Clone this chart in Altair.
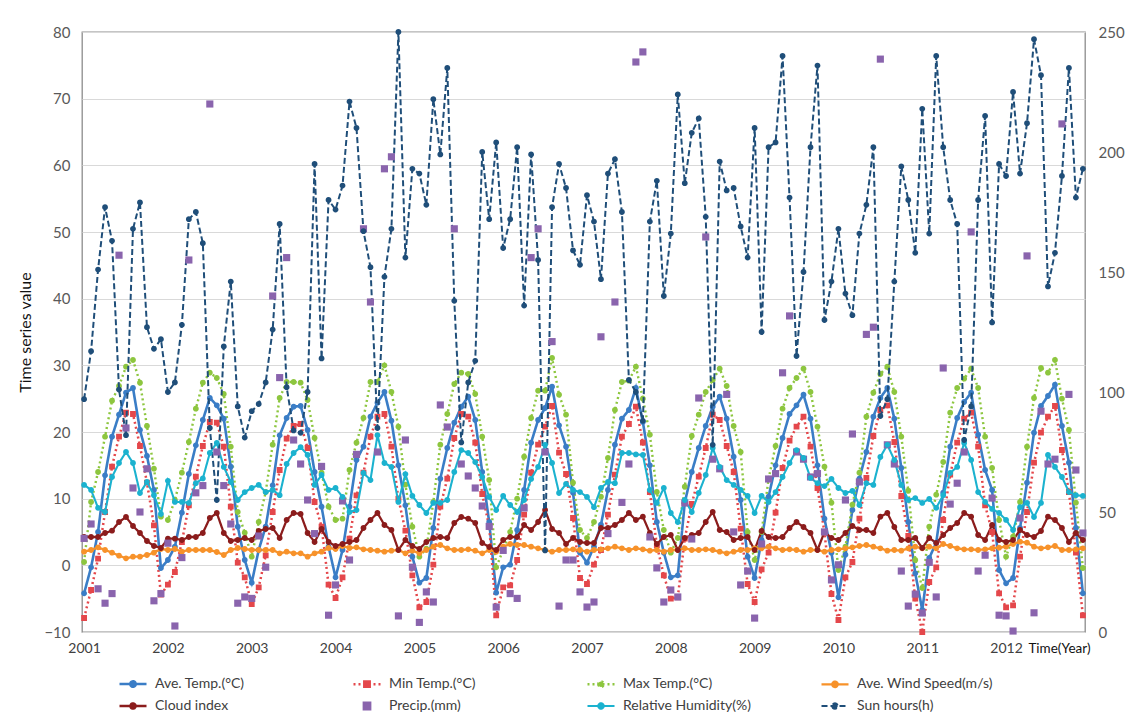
import altair as alt
import pandas as pd

# ---------------- data ----------------
year_labels = ["2001", "2002", "2003", "2004", "2005", "2006",
               "2007", "2008", "2009", "2010", "2011", "2012"]
year_ticks = [0, 12, 24, 36, 48, 60, 72, 84, 96, 108, 120, 132]

series_names = ["Ave. Temp.(°C)", "Min Temp.(°C)", "Max Temp.(°C)",
                "Ave. Wind Speed(m/s)", "Cloud index", "Precip.(mm)",
                "Relative Humidity(%)", "Sun hours(h)"]

ave_temp = [
    -4.2, -0.3, 5.0, 13.5, 19.3, 22.6, 25.9, 26.6, 20.3, 16.4, 11.3, -0.4,
    0.8, 2.8, 7.9, 13.7, 18.0, 21.8, 25.1, 24.0, 22.0, 14.8, 5.8, 0.8,
    -2.6, 2.3, 5.8, 12.0, 19.5, 22.1, 23.8, 23.9, 20.3, 14.0, 8.8, 2.8,
    -1.8, 2.3, 8.8, 15.8, 17.8, 22.3, 24.4, 26.0, 21.7, 15.0, 9.0, 1.3,
    -2.6, -1.9, 5.6, 13.0, 17.6, 21.4, 23.8, 25.3, 21.8, 14.0, 6.5, -4.1,
    -0.3, 0.1, 5.3, 11.3, 18.4, 21.8, 23.6, 26.8, 21.0, 17.8, 10.9, 1.9,
    0.4, 2.8, 6.1, 11.3, 18.1, 22.0, 23.3, 26.6, 21.5, 15.0, 6.5, 1.9,
    -1.8, -1.5, 9.4, 14.0, 17.6, 20.9, 23.8, 25.3, 22.0, 16.3, 9.8, 1.3,
    -1.9, 3.8, 10.3, 15.0, 19.1, 22.7, 24.0, 25.6, 22.0, 15.0, 7.0, 1.9,
    -4.8, 1.6, 8.3, 13.0, 17.0, 22.3, 25.1, 26.6, 22.0, 14.6, 6.5, -1.2,
    -6.7, 1.1, 3.4, 10.9, 17.8, 22.1, 24.5, 25.9, 19.6, 14.3, 11.3, -0.7,
    -2.7, -1.9, 5.6, 12.4, 19.9, 23.9, 25.4, 27.1, 20.9, 15.4, 5.6, -4.2,
]

min_temp = [
    -7.9, -3.7, 1.0, 8.0, 14.8, 19.3, 22.9, 22.7, 17.9, 12.4, 6.0, -4.4,
    -2.9, -1.0, 3.5, 9.0, 13.3, 17.9, 21.5, 21.4, 17.8, 8.8, 0.4, -1.8,
    -5.8, -3.3, 1.5, 8.0, 14.3, 19.0, 20.9, 21.2, 17.6, 9.5, 5.8, -2.9,
    -4.9, -1.8, 4.0, 10.5, 13.9, 19.3, 22.3, 22.7, 17.8, 10.0, 5.2, -1.5,
    -6.3, -5.5, 0.1, 8.8, 13.0, 19.1, 22.7, 22.3, 18.4, 10.7, 5.8, -7.5,
    -3.3, -3.0, 0.8, 7.6, 13.9, 18.1, 20.8, 23.9, 16.9, 13.7, 7.1, -1.9,
    -2.8, 0.1, 2.3, 7.6, 13.6, 19.3, 21.2, 23.8, 18.4, 11.0, 3.0, -1.5,
    -5.0, -4.8, 4.0, 9.2, 13.3, 17.6, 22.6, 21.8, 17.9, 14.0, 5.5, -2.8,
    -5.5, -0.6, 1.9, 7.9, 14.6, 18.7, 20.8, 22.3, 17.8, 11.6, 4.9, -4.3,
    -8.2, -1.8, 0.5, 7.0, 13.1, 19.4, 23.3, 24.0, 18.5, 10.4, 4.4, -5.0,
    -10.0, -2.5, -0.3, 6.8, 13.6, 18.4, 22.0, 22.9, 17.8, 9.0, 5.0, -4.2,
    -6.3, -6.0, 1.3, 8.0, 15.4, 19.9, 22.3, 23.9, 17.3, 11.0, 1.9, -7.5,
]

max_temp = [
    0.5, 9.5, 14.0, 19.3, 24.7, 26.9, 29.8, 30.8, 27.4, 20.9, 14.5, 7.3,
    6.8, 9.8, 13.9, 18.5, 23.5, 27.4, 28.9, 28.1, 25.7, 17.8, 8.0, 4.9,
    1.3, 6.5, 11.0, 18.1, 25.1, 27.5, 27.5, 27.4, 24.8, 19.1, 13.9, 8.8,
    6.8, 7.0, 14.3, 18.4, 22.1, 27.5, 27.5, 30.0, 26.0, 20.8, 12.1, 5.8,
    1.3, 2.5, 9.5, 18.1, 22.7, 27.2, 28.9, 28.7, 25.7, 19.3, 12.8, -0.3,
    2.3, 5.0, 10.0, 16.3, 22.1, 26.2, 26.2, 31.1, 25.6, 22.6, 12.4, 5.3,
    4.1, 6.5, 10.3, 16.1, 23.3, 27.5, 27.7, 29.8, 25.0, 19.6, 11.0, 5.3,
    1.9, 4.1, 11.8, 19.4, 22.6, 26.0, 27.8, 29.5, 26.9, 20.9, 17.0, 5.0,
    0.8, 5.0, 13.0, 17.9, 23.5, 26.6, 28.1, 29.5, 26.0, 20.8, 14.8, 9.4,
    -0.7, 2.8, 9.1, 13.9, 22.3, 25.9, 28.7, 29.8, 26.0, 19.3, 11.2, 0.8,
    -3.4, 5.8, 10.6, 15.5, 22.9, 26.6, 28.0, 29.5, 26.6, 19.3, 14.6, 6.8,
    1.3, 4.3, 9.5, 17.8, 25.1, 29.6, 28.9, 30.8, 25.0, 20.3, 9.4, -0.4,
]

wind_speed = [
    2.05, 2.3, 2.7, 2.3, 1.9, 1.45, 1.05, 1.3, 1.3, 1.55, 1.9, 2.45,
    2.3, 2.45, 2.05, 2.3, 2.3, 2.3, 2.3, 2.0, 1.55, 2.3, 2.6, 2.45,
    2.3, 2.3, 2.3, 2.3, 1.8, 2.05, 1.8, 1.8, 1.3, 1.8, 2.05, 2.6,
    2.45, 2.9, 2.6, 2.7, 2.4, 2.3, 2.2, 2.05, 2.2, 2.3, 1.8, 2.2,
    1.8, 2.3, 2.8, 3.05, 2.55, 2.3, 2.3, 2.4, 2.2, 1.8, 2.3, 2.05,
    2.8, 3.2, 3.05, 3.05, 2.8, 2.55, 2.3, 2.05, 2.3, 2.3, 2.4, 2.3,
    2.05, 2.3, 2.4, 2.55, 2.8, 2.55, 2.3, 2.55, 2.4, 2.2, 2.3, 2.05,
    2.3, 2.3, 2.55, 2.3, 2.3, 2.4, 2.3, 2.05, 1.8, 2.05, 2.3, 2.3,
    2.55, 2.55, 2.8, 2.55, 2.3, 2.4, 2.3, 2.05, 2.3, 2.3, 2.05, 2.3,
    2.4, 2.55, 2.7, 2.9, 3.05, 2.8, 2.55, 2.2, 2.3, 2.2, 2.55, 2.8,
    2.55, 2.8, 2.55, 3.2, 2.9, 2.55, 2.4, 2.4, 2.3, 2.4, 2.55, 2.65,
    2.8, 3.2, 3.55, 3.4, 2.8, 2.55, 2.7, 2.9, 2.3, 2.3, 2.4, 2.55,
]

cloud_index = [
    4.25, 4.25, 4.25, 4.85, 5.2, 6.5, 7.25, 5.9, 4.85, 3.65, 2.9, 2.6,
    4.0, 4.0, 3.8, 4.25, 4.25, 4.85, 7.1, 7.85, 4.85, 3.65, 3.8, 4.1,
    3.8, 5.15, 5.45, 5.6, 4.1, 6.8, 7.85, 7.7, 4.85, 3.5, 5.45, 3.5,
    2.9, 3.2, 3.5, 3.8, 5.6, 6.8, 7.85, 6.05, 5.3, 2.3, 3.8, 2.9,
    2.45, 3.5, 4.1, 4.25, 4.1, 6.35, 7.25, 7.0, 6.35, 3.35, 2.75, 2.3,
    3.8, 4.25, 4.25, 6.05, 5.3, 6.5, 8.3, 5.45, 4.85, 3.2, 4.1, 3.5,
    3.35, 3.35, 5.6, 5.6, 6.05, 6.8, 7.85, 6.8, 7.3, 4.85, 3.2, 4.25,
    4.55, 2.3, 4.1, 4.55, 4.85, 6.5, 8.0, 5.3, 5.0, 3.8, 4.1, 4.25,
    2.3, 5.15, 4.25, 4.1, 4.25, 5.6, 6.5, 5.75, 4.85, 2.3, 5.0, 4.1,
    3.8, 4.85, 5.9, 5.3, 5.3, 4.85, 7.3, 7.85, 5.75, 3.8, 3.8, 4.1,
    2.6, 4.1, 3.35, 4.55, 5.6, 6.35, 7.85, 7.3, 4.55, 3.8, 6.05, 3.8,
    3.5, 3.8, 5.3, 4.55, 4.25, 5.15, 7.3, 6.8, 5.6, 3.5, 4.85, 3.8,
]

precip = [
    39, 45, 18, 12, 16, 157, 85, 60, 50, 68, 13, 16,
    37, 2.5, 31, 155, 58, 61, 220, 75, 61, 45, 12, 14.6,
    14, 40, 27, 140, 106, 156, 80, 70, 55, 41, 69, 7,
    19.6, 54.6, 30, 74, 168, 137.5, 75, 193, 198, 6.7, 80, 27,
    4, 16.7, 12.5, 94.6, 85.4, 168, 70, 65, 60, 52.5, 44, 10.4,
    34, 16, 14, 51.7, 156, 168, 75, 121, 10.8, 30, 30, 16.7,
    10.4, 12.5, 123, 41, 137.5, 54, 70, 237.5, 241.7, 39.6, 26.7, 12.5,
    17.5, 14.6, 53.75, 38.75, 97.5, 164.6, 72, 68, 99, 41.7, 19.6, 25.4,
    5.8, 36.7, 63.75, 66, 108, 131.7, 75, 72, 64.6, 66, 41.7, 21.7,
    28, 55, 82.5, 62.5, 124, 127, 238.7, 78, 70, 25.4, 10.8, 15.8,
    7.9, 29, 14.6, 110, 53.3, 62, 75, 166.7, 25.4, 32, 55.8, 7,
    6.7, 0.4, 47.5, 156.7, 8, 92, 70, 72, 211.7, 99, 67.5, 41.25,
]

humidity = [
    61.3, 59.2, 51.7, 50.0, 64.6, 70.4, 75.0, 70.4, 57.9, 62.5, 57.0, 49.2,
    63.0, 54.2, 54.2, 53.8, 62.0, 64.0, 74.6, 78.8, 68.8, 62.5, 55.0, 58.3,
    60.0, 61.3, 58.3, 59.2, 57.0, 70.0, 74.6, 77.0, 73.8, 61.3, 65.4, 59.2,
    60.0, 56.3, 50.0, 50.8, 66.3, 63.3, 82.0, 70.4, 68.8, 54.2, 65.8, 56.7,
    52.9, 49.6, 53.8, 53.8, 55.0, 66.7, 75.8, 74.6, 70.8, 64.6, 56.3, 50.8,
    56.7, 52.9, 50.0, 55.0, 63.8, 68.8, 78.0, 70.4, 57.9, 61.7, 59.2, 58.3,
    56.3, 52.0, 60.0, 62.5, 62.0, 74.6, 74.6, 74.0, 73.8, 59.2, 53.8, 60.0,
    49.6, 45.8, 55.0, 50.0, 57.9, 65.4, 76.7, 68.8, 63.3, 61.3, 59.2, 56.7,
    49.6, 56.7, 54.2, 58.3, 64.6, 70.4, 75.8, 72.5, 64.2, 62.0, 60.8, 63.8,
    60.0, 57.9, 58.8, 52.9, 62.0, 61.3, 72.9, 78.0, 71.7, 61.3, 55.0, 55.8,
    53.8, 55.4, 51.7, 57.0, 66.3, 68.8, 78.8, 71.7, 58.3, 54.2, 51.3, 49.6,
    46.7, 42.5, 52.0, 53.8, 47.9, 53.8, 73.8, 68.8, 64.6, 58.3, 57.0, 56.7,
]

sun_hours = [
    97, 117, 151, 177, 163, 101, 82, 168, 179, 127, 118, 122,
    100, 104, 128, 172, 175, 162, 85, 55, 119, 146, 94, 81,
    92, 95, 104, 126, 170, 102, 84, 83, 100, 195, 114, 180,
    176, 186, 221, 210, 167, 152, 85, 148, 168, 250, 156, 193,
    191, 178, 222, 199, 235, 138, 79, 104, 113, 200, 172, 204,
    160, 172, 202, 136, 199, 155, 34, 177, 195, 185, 159, 153,
    182, 171, 147, 191, 197, 175, 105, 100, 88, 171, 188, 140,
    166, 224, 187, 208, 214, 173, 78, 196, 184, 185, 169, 156,
    210, 125, 202, 204, 240, 181, 115, 150, 202, 236, 130, 146,
    168, 141, 132, 166, 178, 202, 90, 97, 146, 194, 180, 158,
    218, 166, 240, 202, 180, 170, 80, 94, 180, 215, 129, 195,
    190, 225, 191, 212, 247, 232, 144, 158, 190, 235, 181, 193,
]

# ---------------- styles ----------------
colors = ["#3a7dc6", "#e4474b", "#8dc63f", "#f7922a", "#8b1c1c",
          "#8a64ad", "#1bb2cf", "#1f4e79"]
CIRCLE_LINE = "M -4.5 0 H 4.5 M -0.9 0 A 0.9 0.9 0 1 0 0.9 0 A 0.9 0.9 0 1 0 -0.9 0 Z"
# filled square + outline split into short sub-paths so a dotted stroke still looks solid
SQUARE_LINE = ("M -4.5 0 H 4.5 M -0.9 -0.9 H 0.9 V 0.9 H -0.9 Z "
               "M -0.9 -0.9 h 0.6 M -0.3 -0.9 h 0.6 M 0.3 -0.9 h 0.6 "
               "M 0.9 -0.9 v 0.6 M 0.9 -0.3 v 0.6 M 0.9 0.3 v 0.6 "
               "M 0.9 0.9 h -0.6 M 0.3 0.9 h -0.6 M -0.3 0.9 h -0.6 "
               "M -0.9 0.9 v -0.6 M -0.9 0.3 v -0.6 M -0.9 -0.3 v -0.6")
SQUARE_ONLY = "M -1.1 -1.1 H 1.1 V 1.1 H -1.1 Z"
shapes = [CIRCLE_LINE, SQUARE_LINE, CIRCLE_LINE, CIRCLE_LINE, CIRCLE_LINE,
          SQUARE_ONLY, CIRCLE_LINE, CIRCLE_LINE]
dashes = [[1, 0], [2, 3], [2, 3], [1, 0], [1, 0], [1, 0], [1, 0], [6, 3]]
widths = [2.6, 2.0, 2.0, 2.0, 2.5, 2.0, 2.5, 2.5]

FONT = "Lato"

# ---------------- tables ----------------
left_data = {series_names[0]: ave_temp, series_names[1]: min_temp,
             series_names[2]: max_temp, series_names[3]: wind_speed,
             series_names[4]: cloud_index}
right_data = {series_names[5]: precip, series_names[6]: humidity,
              series_names[7]: sun_hours}

df_left = pd.DataFrame([{"t": i, "value": v, "series": k}
                        for k, vals in left_data.items() for i, v in enumerate(vals)])
df_right = pd.DataFrame([{"t": i, "value": v, "series": k}
                         for k, vals in right_data.items() for i, v in enumerate(vals)])
df_right_lines = df_right[df_right["series"] != series_names[5]]

# ---------------- encodings ----------------
legend = alt.Legend(title=None, orient="none", legendX=32, legendY=645,
                    columns=4, direction="horizontal", gridAlign="all",
                    columnPadding=57, rowPadding=6, symbolSize=36,
                    symbolStrokeWidth=2, symbolOffset=12, labelOffset=15,
                    labelFontSize=14, labelFont=FONT, labelColor="#404040",
                    padding=0, labelLimit=300)

color_scale = alt.Scale(domain=series_names, range=colors)
shape_scale = alt.Scale(domain=series_names, range=shapes)
dash_scale = alt.Scale(domain=series_names, range=dashes)
width_scale = alt.Scale(domain=series_names, range=widths)

x_enc = alt.X("t:Q",
              scale=alt.Scale(domain=[-0.3, 143.3], nice=False, zero=False),
              axis=alt.Axis(values=year_ticks,
                            labelExpr=f"{year_labels!r}[round(datum.value / 12)]",
                            title="Time(Year)", grid=False, ticks=False, domain=False,
                            labelPadding=9, labelFontSize=14, labelColor="#404040",
                            titleX=1008, titleY=9, titleAlign="right",
                            titleBaseline="top", titleFontSize=13.5,
                            titleFontWeight="normal", titleColor="#111"))

y_left = alt.Y("value:Q",
               scale=alt.Scale(domain=[-10, 80], nice=False, zero=False),
               axis=alt.Axis(values=list(range(-10, 81, 10)), title="Time series value",
                             grid=True, gridColor="#d9d9d9", ticks=False, domain=False,
                             labelPadding=12, labelFontSize=15, labelColor="#595959",
                             titleFontSize=16, titleFontWeight="normal",
                             titleColor="#111", titlePadding=10))

y_right = alt.Y("value:Q",
                scale=alt.Scale(domain=[0, 250], nice=False, zero=True),
                axis=alt.Axis(orient="right", values=list(range(0, 251, 50)), title=None,
                              grid=False, ticks=False, domain=False, labelPadding=13,
                              labelFontSize=15, labelColor="#595959"))

def lines(df, y):
    return alt.Chart(df).mark_line().encode(
        x=x_enc, y=y,
        stroke=alt.Stroke("series:N", scale=color_scale, legend=legend),
        strokeDash=alt.StrokeDash("series:N", scale=dash_scale, legend=legend),
        strokeWidth=alt.StrokeWidth("series:N", scale=width_scale, legend=None),
    )

def points(df, y):
    return alt.Chart(df).mark_point(filled=True, size=42, strokeWidth=0, opacity=1).encode(
        x=x_enc, y=y,
        fill=alt.Fill("series:N", scale=color_scale, legend=legend),
        shape=alt.Shape("series:N", scale=shape_scale, legend=legend),
    )

left_layer = alt.layer(lines(df_left, y_left), points(df_left, y_left))
right_layer = alt.layer(lines(df_right_lines, y_right), points(df_right, y_right))

chart = (
    alt.layer(left_layer, right_layer)
    .resolve_scale(y="independent")
    .properties(width=1003, height=600,
                autosize=alt.AutoSizeParams(type="none"),
                padding={"left": 74, "top": 24, "right": 52, "bottom": 88})
    .configure_view(stroke="#8c8c8c", strokeWidth=1.3)
    .configure_axis(labelFont=FONT, titleFont=FONT)
    .configure_legend(labelFont=FONT)
)

chart.save("out.html", embed_options={"renderer": "svg", "actions": False})
